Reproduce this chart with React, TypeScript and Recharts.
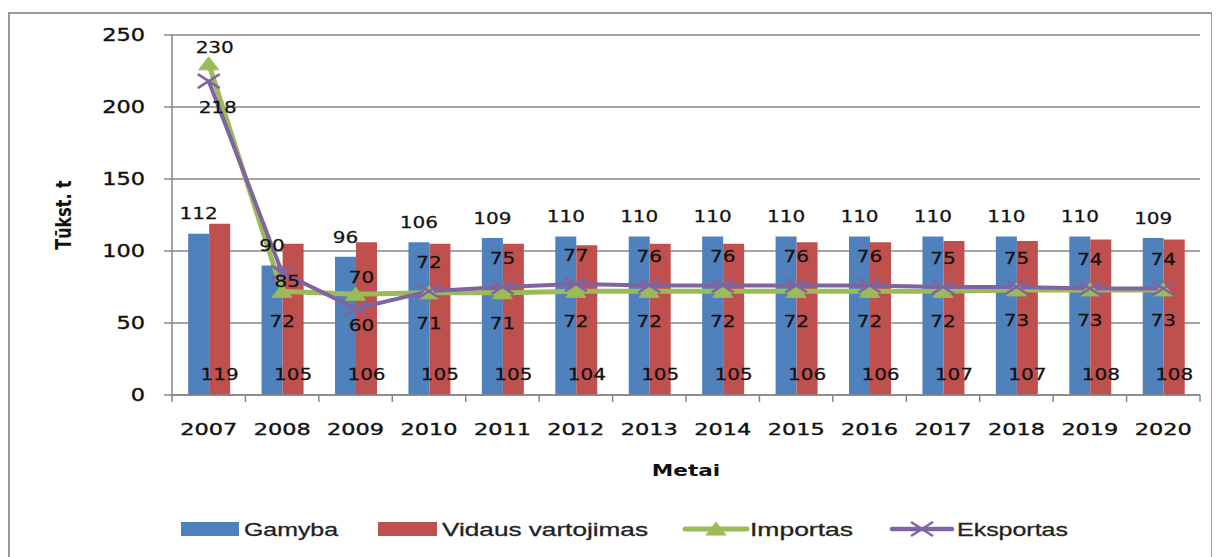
import React from 'react';
import { ComposedChart, Bar, Line, XAxis, YAxis, CartesianGrid, Legend, LabelList } from 'recharts';

const years = ['2007', '2008', '2009', '2010', '2011', '2012', '2013', '2014', '2015', '2016', '2017', '2018', '2019', '2020'];
const gamyba = [112, 90, 96, 106, 109, 110, 110, 110, 110, 110, 110, 110, 110, 109];
const vidausVartojimas = [119, 105, 106, 105, 105, 104, 105, 105, 106, 106, 107, 107, 108, 108];
const importas = [230, 72, 70, 71, 71, 72, 72, 72, 72, 72, 72, 73, 73, 73];
const eksportas = [218, 85, 60, 72, 75, 77, 76, 76, 76, 76, 75, 75, 74, 74];
const yTicks = [0, 50, 100, 150, 200, 250];

const seriesNames = ['Gamyba', 'Vidaus vartojimas', 'Importas', 'Eksportas'];

const data = years.map((year, i) => ({
  year,
  gamyba: gamyba[i],
  vidaus: vidausVartojimas[i],
  importas: importas[i],
  eksportas: eksportas[i],
}));

const BLUE = '#4F81BD';
const RED = '#C0504D';
const GREEN = '#9BBB59';
const PURPLE = '#8064A2';
const AXIS = '#868686';
const TEXT = '#111111';
const FONT = '"DejaVu Sans", Verdana, sans-serif';

const W = 1204;
const H = 549;

const XTick = (props: any) => {
  const { x, y, payload, index, width } = props;
  const half = typeof payload?.offset === 'number' && payload.offset > 0 ? payload.offset : (width || 1028) / years.length / 2;
  const isLast = index === years.length - 1;
  return (
    <g>
      <line x1={x - half} x2={x - half} y1={y} y2={y + 7} stroke={AXIS} strokeWidth={1.5} />
      {isLast && <line x1={x + half} x2={x + half} y1={y} y2={y + 7} stroke={AXIS} strokeWidth={1.5} />}
      <text
        transform={`translate(${x},${y + 35}) scale(1.4,1)`}
        textAnchor="middle"
        dominantBaseline="central"
        fontFamily={FONT}
        fontSize={16}
        fill={TEXT}
        stroke={TEXT}
        strokeWidth={0.35}
      >
        {payload.value}
      </text>
    </g>
  );
};

const YTick = (props: any) => {
  const { x, y, payload } = props;
  return (
    <g>
      <line x1={x - 8} x2={x} y1={y} y2={y} stroke={AXIS} strokeWidth={1.5} />
      <text
        transform={`translate(${x - 27},${y}) scale(1.32,1)`}
        textAnchor="end"
        dominantBaseline="central"
        fontFamily={FONT}
        fontSize={17}
        fill={TEXT}
        stroke={TEXT}
        strokeWidth={0.35}
      >
        {payload.value}
      </text>
    </g>
  );
};

const labelText = (x: number, y: number, value: any) => (
  <text
    transform={`translate(${x},${y}) scale(1.25,1)`}
    textAnchor="middle"
    dominantBaseline="central"
    fontFamily={FONT}
    fontSize={16}
    fill={TEXT}
    stroke={TEXT}
    strokeWidth={0.25}
  >
    {value}
  </text>
);

const GamybaLabel = (props: any) => {
  const { x, y, width, value } = props;
  return labelText(Number(x) + Number(width) / 2, Number(y) - 20, value);
};

const VidausLabel = (props: any) => {
  const { x, y, width, height, value } = props;
  return labelText(Number(x) + Number(width) / 2, Number(y) + Number(height) - 21, value);
};

const ImportasLabel = (props: any) => {
  const { x, y, value, index } = props;
  let dx = 0;
  let dy = 30;
  if (index === 0) { dx = 6; dy = -17; }
  else if (index === 1) { dx = 0; dy = 29.5; }
  else if (index === 2) { dx = 6; dy = -17; }
  return labelText(Number(x) + dx, Number(y) + dy, value);
};

const EksportasLabel = (props: any) => {
  const { x, y, value, index } = props;
  let dx = 0;
  let dy = -29;
  if (index === 0) { dx = 9; dy = 26; }
  else if (index === 1) { dx = 5; dy = 9; }
  else if (index === 2) { dx = 6; dy = 17; }
  return labelText(Number(x) + dx, Number(y) + dy, value);
};

const TriangleDot = (props: any) => {
  const { cx, cy } = props;
  if (cx == null || cy == null) return null;
  return <path d={`M${cx},${cy - 7} L${cx + 10},${cy + 6} L${cx - 10},${cy + 6} Z`} fill={GREEN} stroke={GREEN} strokeWidth={1} />;
};

const CrossDot = (props: any) => {
  const { cx, cy } = props;
  if (cx == null || cy == null) return null;
  return (
    <g>
      <line x1={cx - 11} y1={cy - 7} x2={cx + 11} y2={cy + 7} stroke={PURPLE} strokeWidth={2.5} />
      <line x1={cx - 11} y1={cy + 7} x2={cx + 11} y2={cy - 7} stroke={PURPLE} strokeWidth={2.5} />
    </g>
  );
};

const LegendContent = () => {
  const cy = 16;
  const legendText = (x: number, len: number, s: string) => (
    <text
      x={x}
      y={cy}
      dominantBaseline="central"
      fontFamily='"Liberation Sans", Arial, sans-serif'
      fontSize={18.6}
      fill="#222"
      stroke="#222"
      strokeWidth={0.3}
      textLength={len}
      lengthAdjust="spacingAndGlyphs"
    >
      {s}
    </text>
  );
  return (
    <svg width={W} height={32} style={{ display: 'block' }}>
      <rect x={173} y={cy - 7} width={58} height={14} fill={BLUE} />
      {legendText(236, 94, seriesNames[0])}
      <rect x={370} y={cy - 7} width={59} height={14} fill={RED} />
      {legendText(434, 206, seriesNames[1])}
      <line x1={677} x2={739} y1={cy} y2={cy} stroke={GREEN} strokeWidth={5} strokeLinecap="round" />
      <TriangleDot cx={708} cy={cy} />
      {legendText(742, 103, seriesNames[2])}
      <line x1={884} x2={944} y1={cy} y2={cy} stroke={PURPLE} strokeWidth={4.5} strokeLinecap="round" />
      <CrossDot cx={914} cy={cy} />
      {legendText(949, 111, seriesNames[3])}
    </svg>
  );
};

const YLabel = (props: any) => {
  const { viewBox } = props;
  const vb = viewBox || { x: 104, y: 27, width: 60, height: 360 };
  const cx = vb.x - 48;
  const cy = vb.y + vb.height / 2;
  return (
    <text
      transform={`translate(${cx},${cy}) rotate(-90) scale(1,1.3)`}
      textAnchor="middle"
      dominantBaseline="central"
      fontFamily={FONT}
      fontWeight="bold"
      fontSize={16}
      fill={TEXT}
    >
      Tūkst. t
    </text>
  );
};

const XLabel = (props: any) => {
  const { viewBox } = props;
  const vb = viewBox || { x: 164, y: 387, width: 1028, height: 100 };
  return (
    <text
      transform={`translate(${vb.x + vb.width / 2},${vb.y + 75}) scale(1.35,1)`}
      textAnchor="middle"
      dominantBaseline="central"
      fontFamily={FONT}
      fontWeight="bold"
      fontSize={16}
      fill={TEXT}
    >
      Metai
    </text>
  );
};

export default function App() {
  return (
    <div style={{ position: 'relative', width: W, height: H }}>
      <style>{'html,body{overflow:hidden}'}</style>
      <div
        style={{
          position: 'absolute',
          left: 0,
          top: 4,
          width: 1205,
          height: 560,
          borderLeft: '2px solid #9a9a9a',
          borderTop: '2px solid #9a9a9a',
          borderRight: '2px solid #9a9a9a',
          boxSizing: 'border-box',
          pointerEvents: 'none',
        }}
      />
      <ComposedChart
        width={W}
        height={H}
        data={data}
        margin={{ top: 27, right: 12, bottom: 62, left: 104 }}
        barCategoryGap="22%"
        barGap={0}
      >
        <CartesianGrid vertical={false} stroke={AXIS} strokeWidth={1.5} />
        <XAxis
          dataKey="year"
          height={100}
          tickLine={false}
          tickSize={0}
          tickMargin={0}
          axisLine={{ stroke: AXIS, strokeWidth: 1.5 }}
          tick={<XTick />}
          interval={0}
          label={<XLabel />}
        />
        <YAxis
          domain={[0, 250]}
          ticks={yTicks}
          width={60}
          tickLine={false}
          tickSize={0}
          tickMargin={0}
          axisLine={{ stroke: AXIS, strokeWidth: 1.5 }}
          tick={<YTick />}
          interval={0}
          label={<YLabel />}
        />
        <Legend
          layout="horizontal"
          verticalAlign="middle"
          align="center"
          content={<LegendContent />}
          wrapperStyle={{ top: 505, left: 0, width: W, height: 32, bottom: 'auto' }}
        />
        <Bar dataKey="gamyba" name={seriesNames[0]} fill={BLUE} isAnimationActive={false}>
          <LabelList dataKey="gamyba" content={<GamybaLabel />} />
        </Bar>
        <Bar dataKey="vidaus" name={seriesNames[1]} fill={RED} isAnimationActive={false}>
          <LabelList dataKey="vidaus" content={<VidausLabel />} />
        </Bar>
        <Line
          type="linear"
          dataKey="importas"
          name={seriesNames[2]}
          stroke={GREEN}
          strokeWidth={5}
          dot={<TriangleDot />}
          activeDot={false}
          isAnimationActive={false}
        >
          <LabelList dataKey="importas" content={<ImportasLabel />} />
        </Line>
        <Line
          type="linear"
          dataKey="eksportas"
          name={seriesNames[3]}
          stroke={PURPLE}
          strokeWidth={4}
          dot={<CrossDot />}
          activeDot={false}
          isAnimationActive={false}
        >
          <LabelList dataKey="eksportas" content={<EksportasLabel />} />
        </Line>
      </ComposedChart>
    </div>
  );
}
